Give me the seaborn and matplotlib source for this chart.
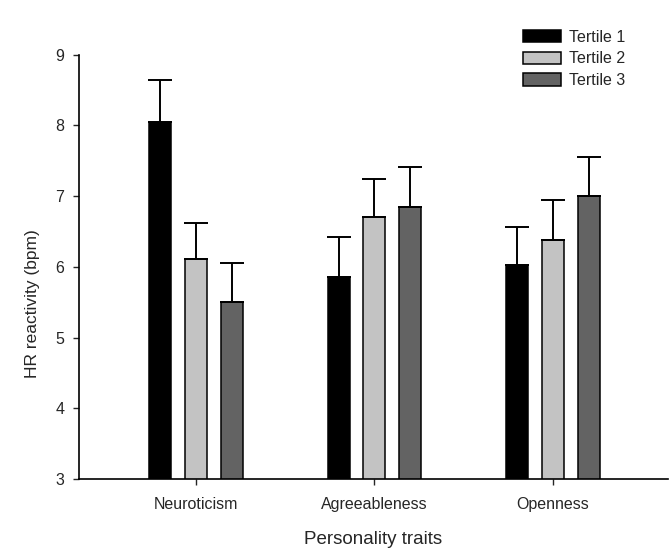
import matplotlib
matplotlib.use("Agg")
import matplotlib.pyplot as plt
import seaborn as sns
import pandas as pd

# değerler
traits = ["Neuroticism", "Agreeableness", "Openness"]
tertiles = ["Tertile 1", "Tertile 2", "Tertile 3"]
means = {
    "Tertile 1": [8.05, 5.86, 6.02],
    "Tertile 2": [6.11, 6.71, 6.38],
    "Tertile 3": [5.50, 6.84, 7.00],
}
errors = {
    "Tertile 1": [0.60, 0.56, 0.54],
    "Tertile 2": [0.51, 0.54, 0.56],
    "Tertile 3": [0.55, 0.57, 0.55],
}
colors = ["#000000", "#c3c3c3", "#636363"]

rows = []
for t in tertiles:
    for i, tr in enumerate(traits):
        rows.append({"trait": tr, "tertile": t, "value": means[t][i], "err": errors[t][i]})
df = pd.DataFrame(rows)

sns.set_style("white")
plt.rcParams["font.family"] = ["Liberation Sans", "DejaVu Sans"]

fig = plt.figure(figsize=(6.7, 5.48), dpi=100)
ax = fig.add_axes([0.118, 0.126, 0.879, 0.774])

sns.barplot(data=df, x="trait", y="value", hue="tertile", order=traits,
            hue_order=tertiles, palette=colors, width=0.6, gap=0.38,
            edgecolor="black", linewidth=1.1, errorbar=None, ax=ax)

# sadece üst hata çubukları
for j, t in enumerate(tertiles):
    cont = ax.containers[j]
    for i, bar in enumerate(cont):
        xc = bar.get_x() + bar.get_width() / 2
        ax.errorbar(xc, means[t][i], yerr=[[0], [errors[t][i]]], fmt="none",
                    ecolor="black", elinewidth=1.4, capsize=8.5, capthick=1.4)

ax.set_ylim(3, 9)
ax.set_xlim(-0.655, 2.645)
ax.set_yticks(range(3, 10))
sns.despine(ax=ax)
ax.tick_params(axis="x", direction="out", length=4.5, width=1, labelsize=11.5,
               bottom=True, pad=8.5)
ax.tick_params(axis="y", direction="out", length=4, width=1, labelsize=11.5,
               left=True, pad=6.5)
ax.set_xlabel("Personality traits", fontsize=13.5, labelpad=14)
ax.set_ylabel("HR reactivity (bpm)", fontsize=12.5)
ax.yaxis.set_label_coords(-0.066, 0.413)
for s in ["left", "bottom"]:
    ax.spines[s].set_color("black")
    ax.spines[s].set_linewidth(1.2)

ax.legend(loc="upper left", bbox_to_anchor=(0.7806, 0.946),
          bbox_transform=fig.transFigure, frameon=False, borderpad=0,
          borderaxespad=0, fontsize=11.5, handlelength=2.4, handleheight=0.8,
          handletextpad=0.5, labelspacing=0.42)

plt.savefig("out.png", dpi=100)
plt.close()
